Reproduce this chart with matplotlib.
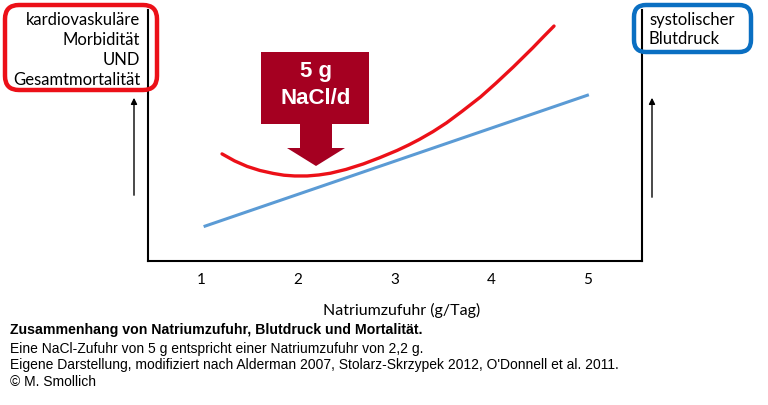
import matplotlib
matplotlib.use("Agg")
import matplotlib.pyplot as plt
from matplotlib.patches import FancyBboxPatch, Polygon, Rectangle

# sodium intake (g/day) vs. relative level (0-100, schematic)
bp_x = [1.03, 5.01]
bp_y = [13.6, 66.2]

risk_x = [1.22, 1.35, 1.48, 1.61, 1.75, 1.86, 1.97, 2.10, 2.22, 2.34, 2.50, 2.68,
          2.85, 3.03, 3.15, 3.26, 3.40, 3.54, 3.70, 3.89, 4.05, 4.23, 4.33, 4.43,
          4.54, 4.65]
risk_y = [42.6, 39.8, 37.6, 36.0, 34.8, 34.1, 33.8, 33.8, 34.2, 34.9, 36.4, 38.6,
          41.1, 44.0, 46.2, 48.4, 51.5, 55.0, 59.6, 65.3, 70.8, 77.3, 81.1, 84.9,
          89.3, 93.6]

ticks = [1, 2, 3, 4, 5]
xlabel = "Natriumzufuhr (g/Tag)"
left_label = ["kardiovaskuläre", "Morbidität", "UND", "Gesamtmortalität"]
right_label = ["systolischer", "Blutdruck"]
marker_label = ["5 g", "NaCl/d"]
caption_title = "Zusammenhang von Natriumzufuhr, Blutdruck und Mortalität."
caption_lines = [
    "Eine NaCl-Zufuhr von 5 g entspricht einer Natriumzufuhr von 2,2 g.",
    "Eigene Darstellung, modifiziert nach Alderman 2007, Stolarz-Skrzypek 2012, O'Donnell et al. 2011.",
    "© M. Smollich",
]

RED = "#ec1018"
DARKRED = "#a50021"
BLUE = "#0a6fc2"
LIGHTBLUE = "#5b9bd5"
CAL = "Lato"
ARIAL = "Liberation Sans"

W, H = 768, 405
fig = plt.figure(figsize=(W / 100, H / 100), dpi=100)

# main axes (pixel box 147.5..642 x 10..260.7)
ax = fig.add_axes([147.5 / W, (H - 260.7) / H, 494.5 / W, 250.7 / H])
ax.plot(bp_x, bp_y, color=LIGHTBLUE, lw=2.2, solid_capstyle="butt")
ax.plot(risk_x, risk_y, color=RED, lw=2.4, solid_capstyle="round",
        solid_joinstyle="round")
ax.set_xlim(0.45, 5.559)
ax.set_ylim(0, 100)
ax.set_xticks(ticks)
ax.set_xticklabels([str(t) for t in ticks], fontsize=11, family=CAL)
ax.tick_params(axis="x", length=0, pad=9)
ax.set_yticks([])
ax.spines["top"].set_visible(False)
for s in ["left", "right", "bottom"]:
    ax.spines[s].set_linewidth(1.5)
ax.set_xlabel(xlabel, fontsize=11.5, family=CAL)
ax.xaxis.set_label_coords((402 - 147.5) / 494.5, -(310 - 260.7) / 250.7)
ax.xaxis.label.set_va("center")

# overlay in pixel coordinates for annotations
ov = fig.add_axes([0, 0, 1, 1], facecolor="none")
ov.set_xlim(0, W)
ov.set_ylim(H, 0)
ov.axis("off")

ov.add_patch(FancyBboxPatch((5, 5), 152, 85, boxstyle="round,pad=0,rounding_size=14",
                            fill=False, ec=RED, lw=3.2))
for i, t in enumerate(left_label):
    ov.text(140, 20 + i * 20, t, ha="right", va="center", fontsize=12, family=CAL)

ov.add_patch(FancyBboxPatch((634, 5), 117, 47, boxstyle="round,pad=0,rounding_size=12",
                            fill=False, ec=BLUE, lw=3.2))
for i, t in enumerate(right_label):
    ov.text(649, 20 + i * 19, t, ha="left", va="center", fontsize=12, family=CAL)

# up arrows
ov.annotate("", xy=(134, 95), xytext=(134, 198),
            arrowprops=dict(arrowstyle="-|>", color="black", lw=1, mutation_scale=9))
ov.annotate("", xy=(652, 95), xytext=(652, 200),
            arrowprops=dict(arrowstyle="-|>", color="black", lw=1, mutation_scale=9))

# 5 g NaCl/d marker
ov.add_patch(Rectangle((261, 52), 108, 72, color=DARKRED, lw=0))
ov.add_patch(Polygon([(300, 123), (332, 123), (332, 148), (345, 148), (316, 166),
                      (287, 148), (300, 148)], closed=True, color=DARKRED, lw=0))
ov.text(316, 71, marker_label[0], ha="center", va="center", color="white",
        fontsize=16, fontweight="bold", family=ARIAL)
ov.text(316, 99, marker_label[1], ha="center", va="center", color="white",
        fontsize=16, fontweight="bold", family=ARIAL)

# caption
ov.text(10, 330, caption_title, ha="left", va="center", fontsize=10.2,
        fontweight="bold", family=ARIAL)
for i, t in enumerate(caption_lines):
    ov.text(10, 349 + i * 16.5, t, ha="left", va="center", fontsize=10, family=ARIAL)

fig.savefig("out.png", dpi=100)
